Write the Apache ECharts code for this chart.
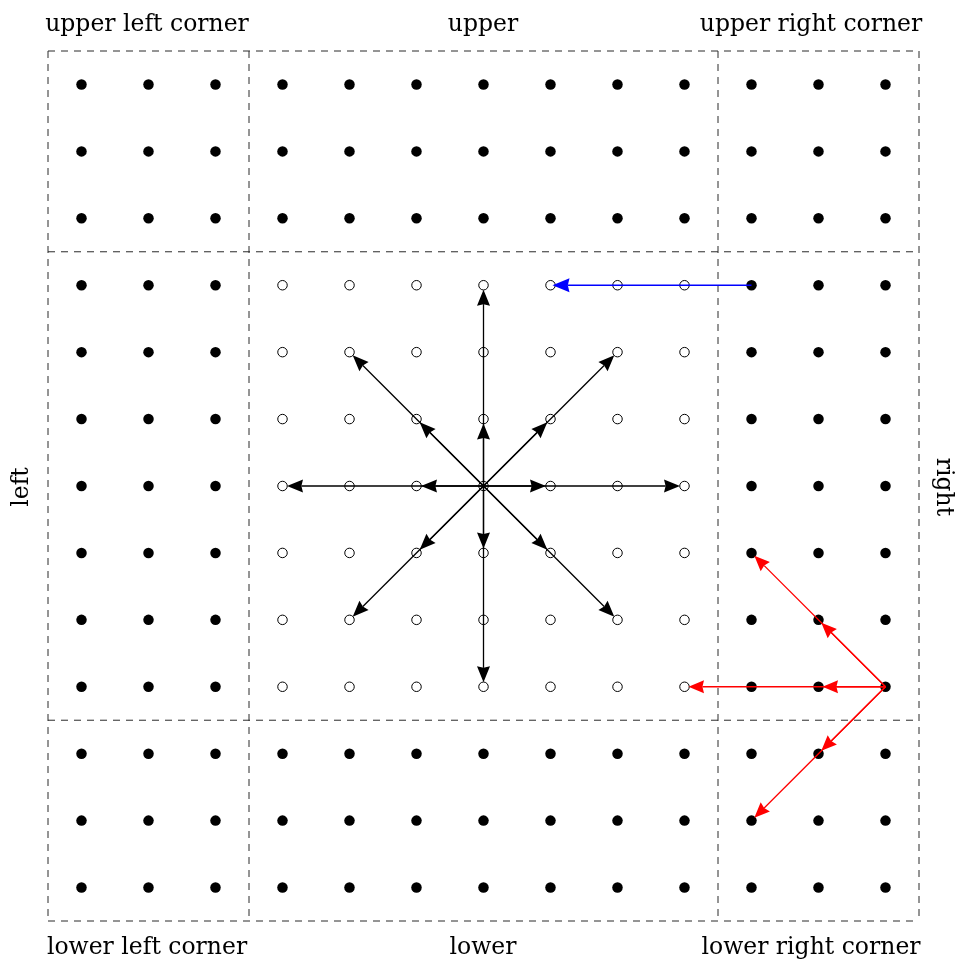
<!DOCTYPE html>
<html><head><meta charset="utf-8">
<script src="https://cdn.jsdelivr.net/npm/echarts@6/dist/echarts.min.js"></script>
<style>html,body{margin:0;padding:0;background:#fff}#c{width:959px;height:962px}</style>
</head><body><div id="c"></div><script>
// ---- data ----
const columns = [0,1,2,3,4,5,6,7,8,9,10,11,12];
const rows = [0,1,2,3,4,5,6,7,8,9,10,11,12];
const innerRange = [3, 9];                 // open-circle block (cols & rows)
const regionBounds = [-0.5, 2.5, 9.5, 12.5]; // dashed region boundaries
const blackArrows = [
  [6,6,6,5],[6,6,6,3],[6,6,6,7],[6,6,6,9],
  [6,6,5,6],[6,6,3,6],[6,6,7,6],[6,6,9,6],
  [6,6,5,5],[6,6,4,4],[6,6,7,5],[6,6,8,4],
  [6,6,5,7],[6,6,4,8],[6,6,7,7],[6,6,8,8]
];
const blueArrows = [[10,3,7,3]];
const redArrows = [
  [12,9,11,9],[12,9,9,9],[12,9,11,8],[12,9,10,7],[12,9,11,10],[12,9,10,11]
];
const topLabels = ['upper left corner','upper','upper right corner'];
const sideLabels = ['left','right'];
const bottomLabels = ['lower left corner','lower','lower right corner'];

// ---- derived ----
const filledPoints = [], openPoints = [];
rows.forEach(r => columns.forEach(c => {
  const inner = c >= innerRange[0] && c <= innerRange[1] && r >= innerRange[0] && r <= innerRange[1];
  (inner ? openPoints : filledPoints).push([c, r]);
}));
const lo = regionBounds[0], hi = regionBounds[regionBounds.length-1];
const dashLines = [];
regionBounds.forEach(b => {
  dashLines.push([b, lo, b, hi]);
  dashLines.push([lo, b, hi, b]);
});

function dashRender(params, api) {
  const p1 = api.coord([api.value(0), api.value(1)]);
  const p2 = api.coord([api.value(2), api.value(3)]);
  return {type: 'line', shape: {x1: p1[0], y1: p1[1], x2: p2[0], y2: p2[1]},
    style: {stroke: '#2a2a2a', lineWidth: 1, lineDash: [7, 6]}};
}

function arrowRender(color, headLen, headW, gap) {
  return function (params, api) {
    const p1 = api.coord([api.value(0), api.value(1)]);
    const p2 = api.coord([api.value(2), api.value(3)]);
    const dx = p2[0]-p1[0], dy = p2[1]-p1[1];
    const L = Math.hypot(dx, dy), ux = dx/L, uy = dy/L, nx = -uy, ny = ux;
    const tip = [p2[0]-ux*gap, p2[1]-uy*gap];
    const base = [tip[0]-ux*headLen, tip[1]-uy*headLen];
    const notch = [tip[0]-ux*headLen*0.9, tip[1]-uy*headLen*0.9];
    return {type: 'group', children: [
      {type: 'line', shape: {x1: p1[0], y1: p1[1], x2: notch[0], y2: notch[1]},
       style: {stroke: color, lineWidth: 1.3}},
      {type: 'polygon', shape: {points: [tip,
        [base[0]+nx*headW, base[1]+ny*headW], notch,
        [base[0]-nx*headW, base[1]-ny*headW]]},
       style: {fill: color}}
    ]};
  };
}
function segSeries(data, render, z) {
  return {type: 'custom', coordinateSystem: 'cartesian2d', data: data,
    encode: {x: [0, 2], y: [1, 3]}, renderItem: render, z: z, silent: true};
}

const FONT = '"DejaVu Serif", "Liberation Serif", serif';
const FS = 23.5;
function txt(t, x, y, rot) {
  return {type: 'text', x: x, y: y, rotation: rot || 0,
    style: {text: t, font: FS + 'px ' + FONT, fill: '#000', align: 'center', verticalAlign: 'middle'}};
}
const topX = [147, 483, 811];
const graphics = [];
topLabels.forEach((t, i) => graphics.push(txt(t, topX[i], 25)));
bottomLabels.forEach((t, i) => graphics.push(txt(t, topX[i], 948)));
graphics.push(txt(sideLabels[0], 22, 487, Math.PI/2));
graphics.push(txt(sideLabels[1], 943, 487, -Math.PI/2));

const chart = echarts.init(document.getElementById('c'));
chart.setOption({
  animation: false,
  backgroundColor: '#fff',
  grid: {left: 48, right: 40, top: 51, bottom: 41},
  xAxis: {type: 'value', min: lo, max: hi, show: false},
  yAxis: {type: 'value', min: lo, max: hi, inverse: true, show: false},
  graphic: graphics,
  series: [
    segSeries(dashLines, dashRender, 1),
    {type: 'scatter', data: filledPoints, symbol: 'circle', symbolSize: 10.5, silent: true, z: 5,
     itemStyle: {color: '#000', opacity: 1}},
    {type: 'scatter', data: openPoints, symbol: 'circle', symbolSize: 9.5, silent: true, z: 5,
     itemStyle: {color: '#fff', borderColor: '#000', borderWidth: 1, opacity: 1}},
    segSeries(blackArrows, arrowRender('#000', 16, 6.5, 4.5), 10),
    segSeries(blueArrows, arrowRender('#0000ff', 17, 7, 2), 10),
    segSeries(redArrows, arrowRender('#ff0000', 15.5, 6.5, 4), 10)
  ]
});
</script></body></html>
